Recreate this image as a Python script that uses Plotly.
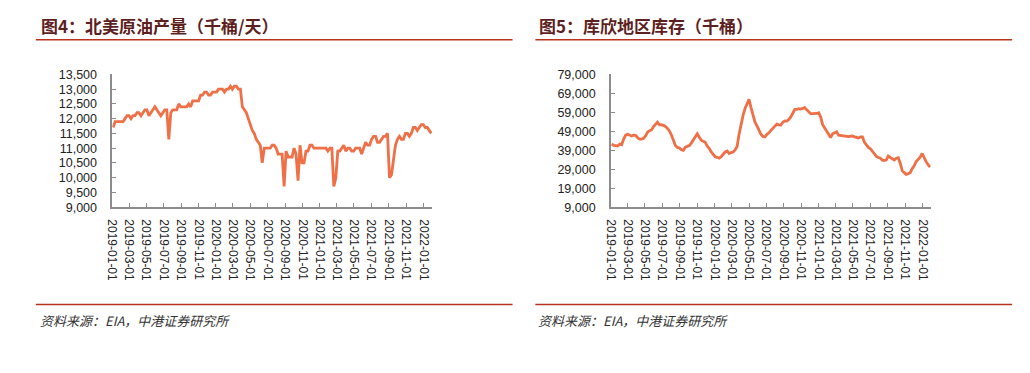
import pandas as pd
import plotly.graph_objects as go

W, H = 1030, 373

# ---- Data: North America crude production (kb/d), weekly from 2019-01-04 ----
prod_2019 = [11700, 11900, 11900, 11900, 11900, 11900, 12000, 12100, 12100, 12000,
             12100, 12100, 12200, 12200, 12100, 12200, 12300, 12300, 12100, 12200,
             12300, 12400, 12300, 12200, 12100, 12200, 12300, 12300, 11300, 12200,
             12300, 12300, 12300, 12500, 12400, 12400, 12400, 12400, 12500, 12400,
             12600, 12600, 12600, 12600, 12800, 12800, 12900, 12900, 12800, 12800,
             12900, 12900]
prod_2020 = [12900, 13000, 13000, 13000, 12900, 13000, 13000, 13100, 13000, 13100,
             13100, 13000, 13000,
             12400, 12300, 12200, 12000, 11800, 11600, 11500, 11300, 11200, 11100,
             10500, 11000, 11000, 11000, 11000, 11100, 11100, 11000, 10800, 10800,
             10800, 9700, 10900, 10700, 10700, 10700, 11000, 10800, 9900, 11100,
             10500, 10500, 10900, 10900, 11100, 11100, 11000, 11000, 11000]
prod_2021 = [11000, 11000, 11000, 11000, 10900, 11000, 11000, 9700, 10000, 10900,
             10900, 11000, 11100, 10900, 11000, 11000, 10900, 10900, 11000, 11000,
             11000, 10800, 11000, 11200, 11100, 11100, 11300, 11400, 11400, 11200,
             11200, 11300, 11400, 11400, 11500, 10000, 10100, 10600, 11100, 11300,
             11400, 11300, 11300, 11500, 11500, 11400, 11500, 11700, 11700, 11600,
             11700, 11800]
prod_2022 = [11800, 11700, 11700, 11600, 11500]

# ---- Data: Cushing stocks (thousand barrels), weekly from 2019-01-04 ----
cush_2019 = [42300, 41600, 41400, 41200, 42300, 41900, 44900, 47000, 47400, 46800,
             46500, 47000, 46900, 45600, 44900, 44900, 45300, 46500, 48500, 49300,
             49700, 51500, 52800, 53800, 52400, 52500, 52100, 51600, 50500, 49200,
             47000, 44200, 41500, 40500, 40200, 39300, 39000, 40600, 41000, 41500,
             42800, 44300, 45700, 47700, 45900, 44300, 43700, 43200, 41200, 40000,
             38100, 36800]
cush_2020 = [35600, 35300, 34800, 35600, 37000, 38100, 38600, 37300, 37800, 38100,
             39200, 41000, 47500, 53000, 57400, 61000, 63400, 65900, 61500, 57000,
             53800, 51900, 49600, 47400, 46300, 46000, 47400, 48200, 49500, 50800,
             51900, 52800, 52400, 52300, 53800, 54500, 54400, 55200, 56600, 59000,
             60500, 60500, 60900, 60700, 60900, 61500, 60300, 59500, 58300, 58300,
             58300, 58400]
cush_2021 = [58800, 56500, 52500, 50800, 49100, 47600, 45700, 47700, 48300, 48700,
             47000, 46800, 46500, 46600, 46000, 46200, 46400, 46500, 46100, 45700,
             45500, 46000, 46000, 43200, 41500, 40500, 39800, 38500, 36800, 35800,
             35200, 34800, 33800, 33600, 33900, 35900, 35200, 34300, 33900, 34800,
             35100, 32200, 28200, 27200, 26300, 26600, 27200, 29300, 30800, 33100,
             34200, 35300]
cush_2022 = [37300, 35000, 33000, 31400, 30200]

prod = prod_2019 + prod_2020 + prod_2021 + prod_2022
cush = cush_2019 + cush_2020 + cush_2021 + cush_2022
dates_prod = pd.date_range("2019-01-04", periods=len(prod), freq="7D")
dates_cush = pd.date_range("2019-01-04", periods=len(cush), freq="7D")

titles = ["图4：北美原油产量（千桶/天）", "图5：库欣地区库存（千桶）"]
source_text = "资料来源：EIA，中港证券研究所"

LINE_COLOR = "#EF6F47"
RULE_COLOR = "#B8321E"
TITLE_COLOR = "#5E1F1F"
AXIS_COLOR = "#8C8C8C"
XTICK_FONT = dict(family="Liberation Sans, Arial, sans-serif", size=12, color="#222222")
YTICK_FONT = dict(family="Liberation Sans, Arial, sans-serif", size=12.5, color="#222222")

fig = go.Figure()
fig.add_trace(go.Scatter(x=dates_prod, y=prod, mode="lines",
                         line=dict(color=LINE_COLOR, width=2.8), xaxis="x", yaxis="y",
                         showlegend=False, hoverinfo="skip"))
fig.add_trace(go.Scatter(x=dates_cush, y=cush, mode="lines",
                         line=dict(color=LINE_COLOR, width=2.8), xaxis="x2", yaxis="y2",
                         showlegend=False, hoverinfo="skip"))

ybot = 1 - 208 / H
ytop = 1 - 70 / H

xcommon = dict(type="date", tickformat="%Y-%m-%d", dtick="M2", tick0="2019-01-01",
               tickangle=90, ticks="inside", ticklen=4, tickcolor=AXIS_COLOR,
               showline=True, linecolor=AXIS_COLOR, linewidth=1.5, showgrid=False,
               zeroline=False, tickfont=XTICK_FONT, ticklabelstandoff=8, fixedrange=True)
ycommon = dict(ticks="inside", ticklen=4, tickcolor=AXIS_COLOR, showline=True,
               linecolor=AXIS_COLOR, linewidth=1.5, showgrid=False, zeroline=False,
               tickformat=",", tickfont=YTICK_FONT, ticklabelstandoff=11, fixedrange=True)

fig.update_layout(
    width=W, height=H, margin=dict(l=0, r=0, t=0, b=0),
    paper_bgcolor="white", plot_bgcolor="white",
    xaxis=dict(domain=[106 / W, 428 / W], range=["2019-01-01", "2022-01-31"],
               anchor="y", **xcommon),
    yaxis=dict(domain=[ybot, ytop], range=[9000, 13500], dtick=500, tick0=9000,
               anchor="x", **ycommon),
    xaxis2=dict(domain=[608 / W, 930 / W], range=["2019-01-01", "2022-01-30"],
                anchor="y2", **xcommon),
    yaxis2=dict(domain=[ybot, ytop], range=[9000, 79000], dtick=10000, tick0=9000,
                anchor="x2", **ycommon),
)

shapes = []
for x0, x1 in [(29, 509), (532, 1012)]:
    for yy in (34, 309):
        shapes.append(dict(type="line", xref="paper", yref="paper",
                           x0=x0 / W, x1=x1 / W, y0=1 - yy / H, y1=1 - yy / H,
                           line=dict(color=RULE_COLOR, width=1.5)))
fig.update_layout(shapes=shapes)

annotations = []
for xt, t in [(32, titles[0]), (534, titles[1])]:
    annotations.append(dict(x=xt / W, y=1 - 19 / H, xref="paper", yref="paper",
                            xanchor="left", yanchor="middle", showarrow=False,
                            text="<b>" + t + "</b>",
                            font=dict(family="Noto Sans CJK SC", size=17, color=TITLE_COLOR)))
for xs in (31, 533):
    annotations.append(dict(x=xs / W, y=1 - 326 / H, xref="paper", yref="paper",
                            xanchor="left", yanchor="middle", showarrow=False,
                            text="<i>" + source_text + "</i>",
                            font=dict(family="Noto Sans CJK SC", size=13, color="#333333")))
fig.update_layout(annotations=annotations)

fig.write_html("out.html", config={"displayModeBar": False},
               post_script="document.body.style.margin='0';")
